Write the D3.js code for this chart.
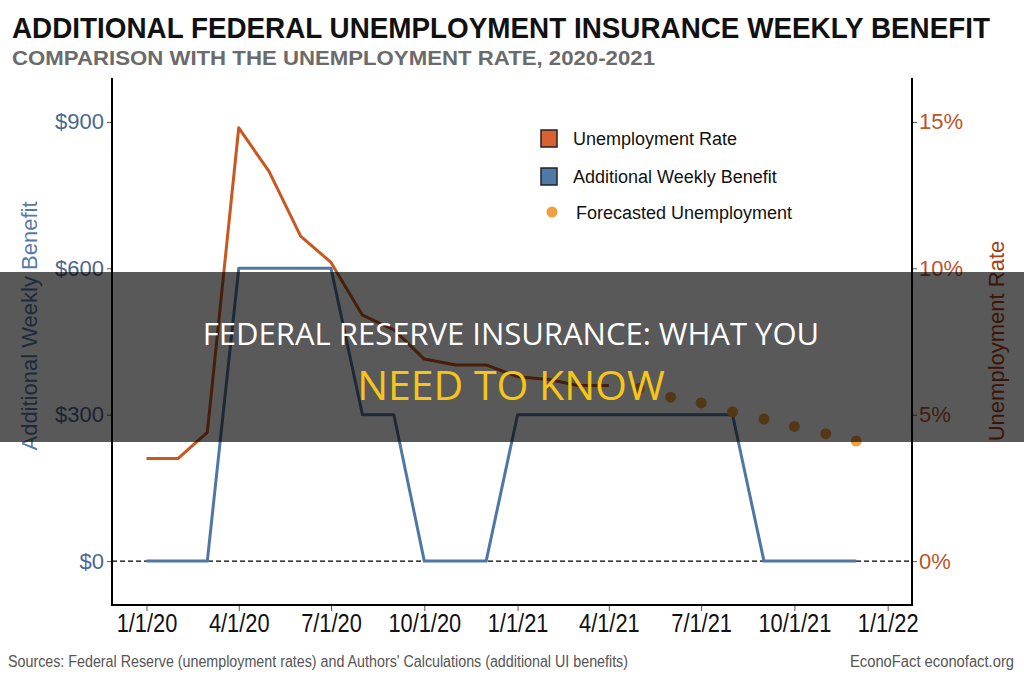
<!DOCTYPE html>
<html>
<head>
<meta charset="utf-8">
<script src="https://cdn.jsdelivr.net/npm/d3@7"></script>
<style>
  body { margin: 0; background: #fff; }
  svg { display: block; }
  .narrow { font-family: "Liberation Sans Narrow", "Arial Narrow", "Liberation Sans", sans-serif; }
  .reg { font-family: "Liberation Sans", Arial, sans-serif; }
</style>
</head>
<body>
<svg id="chart" width="1024" height="682"></svg>
<script>
// monthly data, first of month
var benefitMonths = ["2020-01","2020-02","2020-03","2020-04","2020-05","2020-06","2020-07","2020-08","2020-09","2020-10","2020-11","2020-12",
                     "2021-01","2021-02","2021-03","2021-04","2021-05","2021-06","2021-07","2021-08","2021-09","2021-10","2021-11","2021-12"];
var benefitValues = [0, 0, 0, 600, 600, 600, 600, 300, 300, 0, 0, 0,
                     300, 300, 300, 300, 300, 300, 300, 300, 0, 0, 0, 0];

var rateMonths = ["2020-01","2020-02","2020-03","2020-04","2020-05","2020-06","2020-07","2020-08","2020-09","2020-10","2020-11","2020-12",
                  "2021-01","2021-02","2021-03","2021-04"];
var rateValues = [3.5, 3.5, 4.4, 14.8, 13.3, 11.1, 10.2, 8.4, 7.9, 6.9, 6.7, 6.7, 6.3, 6.2, 6.0, 6.0];

var forecastMonths = ["2021-05","2021-06","2021-07","2021-08","2021-09","2021-10","2021-11","2021-12"];
var forecastValues = [5.9, 5.6, 5.4, 5.1, 4.85, 4.6, 4.35, 4.1];

var xTickDates = ["2020-01-01","2020-04-01","2020-07-01","2020-10-01","2021-01-01","2021-04-01","2021-07-01","2021-10-01","2022-01-01"];
var xTickLabels = ["1/1/20","4/1/20","7/1/20","10/1/20","1/1/21","4/1/21","7/1/21","10/1/21","1/1/22"];
var benefitTicks = [0, 300, 600, 900];
var rateTicks = [0, 5, 10, 15];

var parseMonth = d3.timeParse("%Y-%m");
var parseDay = d3.timeParse("%Y-%m-%d");

var blue = "#4f77a3";
var orange = "#c9571f";
var plotLeft = 112, plotRight = 912, plotTop = 78, plotBottom = 605;

var svg = d3.select("#chart");

var x = d3.scaleTime()
    .domain([new Date(2019, 10, 28), new Date(2022, 0, 25)])
    .range([plotLeft, plotRight]);
var yL = d3.scaleLinear().domain([-90, 990]).range([plotBottom, plotTop]);
var yR = d3.scaleLinear().domain([-1.5, 16.5]).range([plotBottom, plotTop]);

// titles
svg.append("text").attr("class", "narrow")
    .attr("x", 12).attr("y", 38)
    .attr("textLength", 978).attr("lengthAdjust", "spacingAndGlyphs")
    .style("font-size", "30px").style("font-weight", "bold").attr("fill", "#111")
    .text("ADDITIONAL FEDERAL UNEMPLOYMENT INSURANCE WEEKLY BENEFIT");
svg.append("text").attr("class", "narrow")
    .attr("x", 12).attr("y", 65)
    .attr("textLength", 643).attr("lengthAdjust", "spacingAndGlyphs")
    .style("font-size", "21px").style("font-weight", "bold").attr("fill", "#6b6b6b")
    .text("COMPARISON WITH THE UNEMPLOYMENT RATE, 2020-2021");

// zero dashed line
svg.append("line")
    .attr("x1", plotLeft).attr("x2", plotRight)
    .attr("y1", yL(0)).attr("y2", yL(0))
    .attr("stroke", "#000").attr("stroke-width", 1.2)
    .attr("stroke-dasharray", "5,3");

// left axis
var axL = svg.append("g").attr("transform", "translate(" + plotLeft + ",0)")
    .call(d3.axisLeft(yL).tickValues(benefitTicks).tickFormat(d => "$" + d).tickSizeOuter(0).tickSize(5));
axL.select(".domain").remove();
axL.selectAll(".tick line").attr("stroke", "#555");
axL.selectAll("text").attr("class", "reg").style("font-size", "22px").attr("fill", "#4a6791").attr("x", -8);

// right axis
var axR = svg.append("g").attr("transform", "translate(" + plotRight + ",0)")
    .call(d3.axisRight(yR).tickValues(rateTicks).tickFormat(d => d + "%").tickSizeOuter(0).tickSize(5));
axR.select(".domain").remove();
axR.selectAll(".tick line").attr("stroke", "#555");
axR.selectAll("text").attr("class", "reg").style("font-size", "22px").attr("fill", "#bd5428").attr("x", 7);

// bottom axis
var axB = svg.append("g").attr("transform", "translate(0," + plotBottom + ")")
    .call(d3.axisBottom(x).tickValues(xTickDates.map(parseDay))
        .tickFormat((d, i) => xTickLabels[i]).tickSizeOuter(0).tickSize(6));
axB.select(".domain").remove();
axB.selectAll(".tick line").attr("stroke", "#555");
axB.selectAll("text").attr("class", "narrow").style("font-size", "26px").attr("fill", "#111")
    .attr("y", 9).attr("transform", "scale(0.84,1)");

// panel frame (open top)
svg.append("path")
    .attr("d", "M" + plotLeft + "," + plotTop + "V" + plotBottom + "H" + plotRight + "V" + plotTop)
    .attr("fill", "none").attr("stroke", "#000").attr("stroke-width", 2);

// axis titles
svg.append("text").attr("class", "reg")
    .attr("transform", "translate(37,326) rotate(-90)")
    .attr("text-anchor", "middle")
    .style("font-size", "22px").attr("fill", "#5a7aa6")
    .text("Additional Weekly Benefit");
svg.append("text").attr("class", "reg")
    .attr("transform", "translate(1004,341) rotate(-90)")
    .attr("text-anchor", "middle")
    .style("font-size", "22px").attr("fill", "#a3401a")
    .text("Unemployment Rate");

// lines
var rateLine = d3.line()
    .x((d, i) => x(parseMonth(rateMonths[i])))
    .y(d => yR(d));
svg.append("path").datum(rateValues)
    .attr("d", rateLine)
    .attr("fill", "none").attr("stroke", orange).attr("stroke-width", 3)
    .attr("stroke-linejoin", "round");

var benefitLine = d3.line()
    .x((d, i) => x(parseMonth(benefitMonths[i])))
    .y(d => yL(d));
svg.append("path").datum(benefitValues)
    .attr("d", benefitLine)
    .attr("fill", "none").attr("stroke", blue).attr("stroke-width", 3)
    .attr("stroke-linejoin", "round");

svg.selectAll(".fc").data(forecastValues).enter().append("circle")
    .attr("class", "fc")
    .attr("cx", (d, i) => x(parseMonth(forecastMonths[i])))
    .attr("cy", d => yR(d))
    .attr("r", 5.5)
    .attr("fill", "#f0a040");

// legend
var legend = svg.append("g").attr("transform", "translate(541,130)");
legend.append("rect").attr("x", 0).attr("y", 0).attr("width", 16).attr("height", 17)
    .attr("fill", "#d8632e").attr("stroke", "#222").attr("stroke-width", 1.5);
legend.append("text").attr("class", "reg").attr("x", 32).attr("y", 15)
    .style("font-size", "18px").attr("fill", "#111").text("Unemployment Rate");
legend.append("rect").attr("x", 0).attr("y", 38).attr("width", 16).attr("height", 17)
    .attr("fill", "#4f79a8").attr("stroke", "#222").attr("stroke-width", 1.5);
legend.append("text").attr("class", "reg").attr("x", 32).attr("y", 53)
    .style("font-size", "18px").attr("fill", "#111").text("Additional Weekly Benefit");
legend.append("circle").attr("cx", 11).attr("cy", 82).attr("r", 5.5).attr("fill", "#f0a040");
legend.append("text").attr("class", "reg").attr("x", 35).attr("y", 89)
    .style("font-size", "18px").attr("fill", "#111").text("Forecasted Unemployment");

// footer
svg.append("text").attr("class", "narrow")
    .attr("x", 8).attr("y", 667)
    .attr("textLength", 620).attr("lengthAdjust", "spacingAndGlyphs")
    .style("font-size", "16px").attr("fill", "#555")
    .text("Sources: Federal Reserve (unemployment rates) and Authors' Calculations (additional UI benefits)");
svg.append("text").attr("class", "narrow")
    .attr("x", 1014).attr("y", 667).attr("text-anchor", "end")
    .attr("textLength", 164).attr("lengthAdjust", "spacingAndGlyphs")
    .style("font-size", "16px").attr("fill", "#555")
    .text("EconoFact  econofact.org");

// overlay banner
svg.append("rect")
    .attr("x", 0).attr("y", 272).attr("width", 1024).attr("height", 170)
    .attr("fill", "rgba(0,0,0,0.65)");
svg.append("text")
    .attr("x", 511).attr("y", 345).attr("text-anchor", "middle")
    .style("font-family", "'Open Sans', sans-serif").style("font-size", "31px")
    .attr("fill", "#fff")
    .text("FEDERAL RESERVE INSURANCE: WHAT YOU");
svg.append("text")
    .attr("x", 511).attr("y", 400).attr("text-anchor", "middle")
    .style("font-family", "'Open Sans', sans-serif").style("font-size", "41px").style("font-weight", "500")
    .attr("fill", "#f5c518")
    .text("NEED TO KNOW");
</script>
</body>
</html>
